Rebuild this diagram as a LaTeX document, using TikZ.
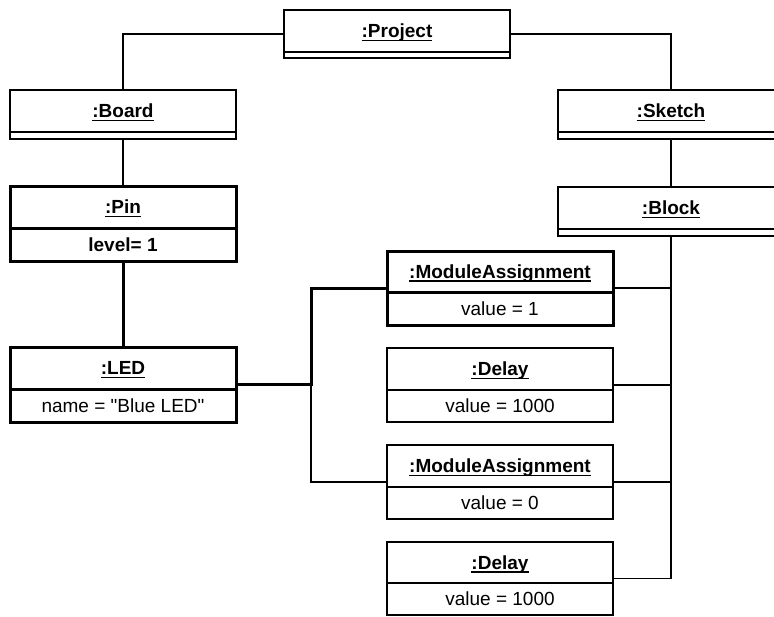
\documentclass[tikz,border=0pt]{standalone}
\usepackage{fontspec}
\setmainfont{Liberation Sans}[Ligatures=TeXOff]
\usetikzlibrary{calc}
\newcommand\ulc[1]{\setbox0\hbox{#1}\rlap{\rule[-3.4pt]{\wd0}{1.3pt}}\box0}
\tikzset{
  thinline/.style={line width=1.3pt},
  thickline/.style={line width=3pt},
  obj/.style={draw, minimum width=226pt, inner sep=0pt, outer sep=0pt},
  txt/.style={inner sep=0pt, anchor=base, font=\fontsize{19}{22}\selectfont},
}
\newcommand\objbox[8]{%
  \node[obj,#2,minimum height={#5pt+#6pt},anchor=north] (#1) at (#3,#4) {};
  \draw[#2] ($(#1.north west)+(0,#5)$) -- ($(#1.north east)+(0,#5)$);
  \node[txt] (#1-t) at ($(#1.north)+(0,#5/2+6.8)$) {\ulc{\bfseries #7}};
  \node[txt] (#1-a) at ($(#1.north)+(0,#5+#6/2+6.8)$) {#8};
}
\begin{document}
\begin{tikzpicture}[x=1pt,y=-1pt]
\useasboundingbox (0,0) rectangle (774,616);
\objbox{proj}{thinline}{397}{10}{42}{6}{:Project}{}
\objbox{board}{thinline}{123}{90}{42}{7}{:Board}{}
\objbox{sketch}{thinline}{671}{90}{42}{7}{:Sketch}{}
\objbox{block}{thinline}{671}{187}{42}{7}{:Block}{}
\objbox{pin}{thickline}{123}{186}{42}{33}{:Pin}{\bfseries level= 1}
\objbox{led}{thickline}{123}{347}{42}{33}{:LED}{name = "Blue LED"}
\objbox{ma1}{thickline}{500}{251}{41}{33}{:ModuleAssignment}{value = 1}
\objbox{d1}{thinline}{500}{348}{42}{32}{:Delay}{value = 1000}
\objbox{ma2}{thinline}{500}{445}{42}{32}{:ModuleAssignment}{value = 0}
\objbox{d2}{thinline}{500}{542}{41}{32}{:Delay}{value = 1000}
\coordinate (jx) at (311,0);
\draw[thinline] (proj.west) -| (board.north);
\draw[thinline] (proj.east) -| (sketch.north);
\draw[thinline] (board.south) -- (pin.north);
\draw[thinline] (sketch.south) -- (block.north);
\draw[thickline] (pin.south) -- (led.north);
\draw[thickline] (led.east) -- (led.east -| jx) |- (ma1.west);
\draw[thinline] (led.east -| jx) |- (ma2.west);
\draw[thinline] (block.south) |- (d2.east);
\draw[thinline] (ma1.east) -- (ma1.east -| block.south);
\draw[thinline] (d1.east) -- (d1.east -| block.south);
\draw[thinline] (ma2.east) -- (ma2.east -| block.south);
\end{tikzpicture}
\end{document}
